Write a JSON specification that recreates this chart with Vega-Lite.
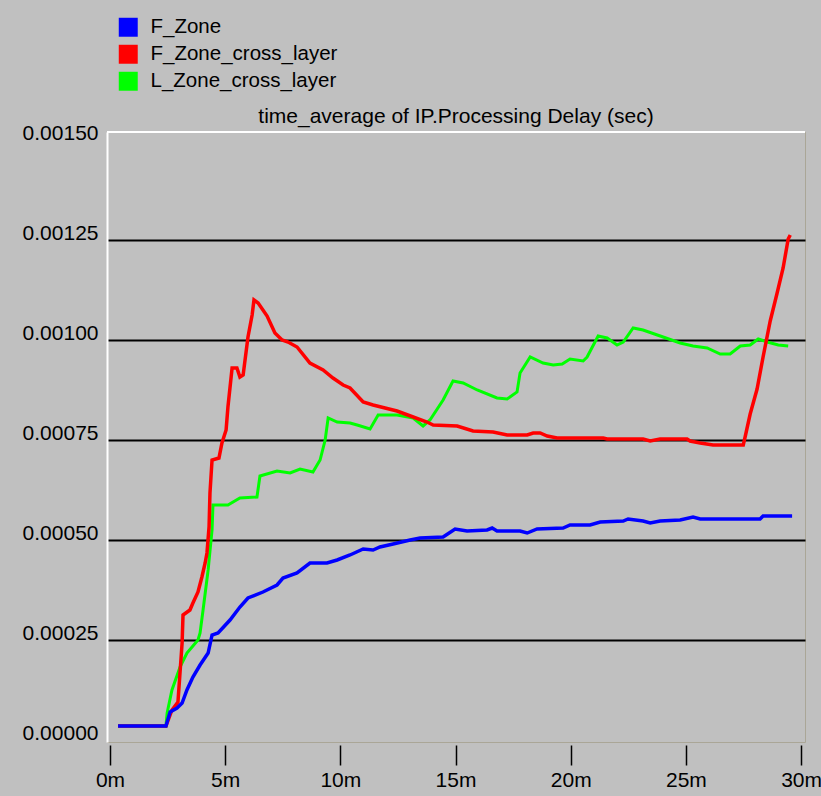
{
  "$schema": "https://vega.github.io/schema/vega-lite/v6.json",
  "autosize": "none",
  "width": 698,
  "height": 610,
  "padding": {"left": 107, "top": 132, "right": 16, "bottom": 54},
  "background": "#c0c0c0",
  "title": {"text": "time_average of IP.Processing Delay (sec)", "font": "Liberation Sans", "fontSize": 21, "fontWeight": "normal", "color": "#000000", "anchor": "middle", "offset": -110},
  "config": {
    "view": {"fill": "#c0c0c0", "stroke": "#aaa697", "strokeWidth": 1},
    "font": "Liberation Sans"
  },
  "datasets": {
    "series": [
      {"s": "F_Zone", "t": 0.35, "v": 0.000035},
      {"s": "F_Zone", "t": 2.43, "v": 0.000035},
      {"s": "F_Zone", "t": 2.61, "v": 0.00007},
      {"s": "F_Zone", "t": 2.91, "v": 0.00008},
      {"s": "F_Zone", "t": 3.13, "v": 0.0000925},
      {"s": "F_Zone", "t": 3.34, "v": 0.000125},
      {"s": "F_Zone", "t": 3.6, "v": 0.0001575},
      {"s": "F_Zone", "t": 3.91, "v": 0.0001875},
      {"s": "F_Zone", "t": 4.26, "v": 0.0002175},
      {"s": "F_Zone", "t": 4.43, "v": 0.0002625},
      {"s": "F_Zone", "t": 4.69, "v": 0.0002675},
      {"s": "F_Zone", "t": 5.21, "v": 0.0003},
      {"s": "F_Zone", "t": 5.64, "v": 0.0003325},
      {"s": "F_Zone", "t": 5.99, "v": 0.000355},
      {"s": "F_Zone", "t": 6.64, "v": 0.00037},
      {"s": "F_Zone", "t": 7.25, "v": 0.0003875},
      {"s": "F_Zone", "t": 7.51, "v": 0.000405},
      {"s": "F_Zone", "t": 8.12, "v": 0.0004175},
      {"s": "F_Zone", "t": 8.68, "v": 0.0004425},
      {"s": "F_Zone", "t": 9.42, "v": 0.0004425},
      {"s": "F_Zone", "t": 9.86, "v": 0.00045},
      {"s": "F_Zone", "t": 10.42, "v": 0.0004625},
      {"s": "F_Zone", "t": 10.99, "v": 0.0004775},
      {"s": "F_Zone", "t": 11.42, "v": 0.000475},
      {"s": "F_Zone", "t": 11.72, "v": 0.0004825},
      {"s": "F_Zone", "t": 12.29, "v": 0.00049},
      {"s": "F_Zone", "t": 13.03, "v": 0.0005},
      {"s": "F_Zone", "t": 13.46, "v": 0.000505},
      {"s": "F_Zone", "t": 14.46, "v": 0.0005075},
      {"s": "F_Zone", "t": 14.98, "v": 0.0005275},
      {"s": "F_Zone", "t": 15.5, "v": 0.0005225},
      {"s": "F_Zone", "t": 16.37, "v": 0.000525},
      {"s": "F_Zone", "t": 16.59, "v": 0.00053},
      {"s": "F_Zone", "t": 16.8, "v": 0.0005225},
      {"s": "F_Zone", "t": 17.8, "v": 0.0005225},
      {"s": "F_Zone", "t": 18.11, "v": 0.0005175},
      {"s": "F_Zone", "t": 18.54, "v": 0.0005275},
      {"s": "F_Zone", "t": 19.67, "v": 0.00053},
      {"s": "F_Zone", "t": 19.97, "v": 0.0005375},
      {"s": "F_Zone", "t": 20.84, "v": 0.0005375},
      {"s": "F_Zone", "t": 21.28, "v": 0.000545},
      {"s": "F_Zone", "t": 22.28, "v": 0.0005475},
      {"s": "F_Zone", "t": 22.49, "v": 0.0005525},
      {"s": "F_Zone", "t": 23.14, "v": 0.0005475},
      {"s": "F_Zone", "t": 23.45, "v": 0.0005425},
      {"s": "F_Zone", "t": 23.88, "v": 0.0005475},
      {"s": "F_Zone", "t": 24.75, "v": 0.00055},
      {"s": "F_Zone", "t": 25.31, "v": 0.0005575},
      {"s": "F_Zone", "t": 25.62, "v": 0.0005525},
      {"s": "F_Zone", "t": 28.22, "v": 0.0005525},
      {"s": "F_Zone", "t": 28.35, "v": 0.00056},
      {"s": "F_Zone", "t": 29.61, "v": 0.00056},

      {"s": "F_Zone_cross_layer", "t": 0.35, "v": 0.000035},
      {"s": "F_Zone_cross_layer", "t": 2.43, "v": 0.000035},
      {"s": "F_Zone_cross_layer", "t": 2.69, "v": 0.000075},
      {"s": "F_Zone_cross_layer", "t": 2.95, "v": 0.000095},
      {"s": "F_Zone_cross_layer", "t": 3.13, "v": 0.0002425},
      {"s": "F_Zone_cross_layer", "t": 3.17, "v": 0.0003125},
      {"s": "F_Zone_cross_layer", "t": 3.47, "v": 0.000325},
      {"s": "F_Zone_cross_layer", "t": 3.6, "v": 0.0003425},
      {"s": "F_Zone_cross_layer", "t": 3.82, "v": 0.00037},
      {"s": "F_Zone_cross_layer", "t": 3.99, "v": 0.0004075},
      {"s": "F_Zone_cross_layer", "t": 4.13, "v": 0.0004425},
      {"s": "F_Zone_cross_layer", "t": 4.21, "v": 0.0004675},
      {"s": "F_Zone_cross_layer", "t": 4.3, "v": 0.0005325},
      {"s": "F_Zone_cross_layer", "t": 4.34, "v": 0.0006175},
      {"s": "F_Zone_cross_layer", "t": 4.43, "v": 0.0007},
      {"s": "F_Zone_cross_layer", "t": 4.73, "v": 0.000705},
      {"s": "F_Zone_cross_layer", "t": 4.86, "v": 0.0007425},
      {"s": "F_Zone_cross_layer", "t": 5.04, "v": 0.000775},
      {"s": "F_Zone_cross_layer", "t": 5.12, "v": 0.0008325},
      {"s": "F_Zone_cross_layer", "t": 5.3, "v": 0.00093},
      {"s": "F_Zone_cross_layer", "t": 5.51, "v": 0.00093},
      {"s": "F_Zone_cross_layer", "t": 5.64, "v": 0.0009075},
      {"s": "F_Zone_cross_layer", "t": 5.78, "v": 0.0009125},
      {"s": "F_Zone_cross_layer", "t": 5.99, "v": 0.0010075},
      {"s": "F_Zone_cross_layer", "t": 6.17, "v": 0.0010625},
      {"s": "F_Zone_cross_layer", "t": 6.25, "v": 0.0011},
      {"s": "F_Zone_cross_layer", "t": 6.43, "v": 0.0010925},
      {"s": "F_Zone_cross_layer", "t": 6.82, "v": 0.00106},
      {"s": "F_Zone_cross_layer", "t": 7.16, "v": 0.0010175},
      {"s": "F_Zone_cross_layer", "t": 7.47, "v": 0.001},
      {"s": "F_Zone_cross_layer", "t": 7.73, "v": 0.000995},
      {"s": "F_Zone_cross_layer", "t": 8.12, "v": 0.0009825},
      {"s": "F_Zone_cross_layer", "t": 8.68, "v": 0.0009425},
      {"s": "F_Zone_cross_layer", "t": 9.25, "v": 0.000925},
      {"s": "F_Zone_cross_layer", "t": 9.68, "v": 0.000905},
      {"s": "F_Zone_cross_layer", "t": 10.12, "v": 0.0008875},
      {"s": "F_Zone_cross_layer", "t": 10.42, "v": 0.00088},
      {"s": "F_Zone_cross_layer", "t": 10.99, "v": 0.000845},
      {"s": "F_Zone_cross_layer", "t": 11.42, "v": 0.0008375},
      {"s": "F_Zone_cross_layer", "t": 12.46, "v": 0.0008225},
      {"s": "F_Zone_cross_layer", "t": 13.16, "v": 0.0008075},
      {"s": "F_Zone_cross_layer", "t": 13.76, "v": 0.000795},
      {"s": "F_Zone_cross_layer", "t": 14.03, "v": 0.0007875},
      {"s": "F_Zone_cross_layer", "t": 15.07, "v": 0.000785},
      {"s": "F_Zone_cross_layer", "t": 15.76, "v": 0.0007725},
      {"s": "F_Zone_cross_layer", "t": 16.63, "v": 0.00077},
      {"s": "F_Zone_cross_layer", "t": 17.24, "v": 0.0007625},
      {"s": "F_Zone_cross_layer", "t": 18.11, "v": 0.0007625},
      {"s": "F_Zone_cross_layer", "t": 18.37, "v": 0.0007675},
      {"s": "F_Zone_cross_layer", "t": 18.67, "v": 0.0007675},
      {"s": "F_Zone_cross_layer", "t": 18.98, "v": 0.00076},
      {"s": "F_Zone_cross_layer", "t": 19.41, "v": 0.000755},
      {"s": "F_Zone_cross_layer", "t": 21.41, "v": 0.000755},
      {"s": "F_Zone_cross_layer", "t": 21.58, "v": 0.0007525},
      {"s": "F_Zone_cross_layer", "t": 23.14, "v": 0.0007525},
      {"s": "F_Zone_cross_layer", "t": 23.45, "v": 0.0007475},
      {"s": "F_Zone_cross_layer", "t": 23.88, "v": 0.0007525},
      {"s": "F_Zone_cross_layer", "t": 25.05, "v": 0.0007525},
      {"s": "F_Zone_cross_layer", "t": 25.18, "v": 0.0007475},
      {"s": "F_Zone_cross_layer", "t": 25.62, "v": 0.0007425},
      {"s": "F_Zone_cross_layer", "t": 26.18, "v": 0.0007375},
      {"s": "F_Zone_cross_layer", "t": 27.49, "v": 0.0007375},
      {"s": "F_Zone_cross_layer", "t": 27.57, "v": 0.0007575},
      {"s": "F_Zone_cross_layer", "t": 27.79, "v": 0.000815},
      {"s": "F_Zone_cross_layer", "t": 28.09, "v": 0.0008775},
      {"s": "F_Zone_cross_layer", "t": 28.35, "v": 0.0009575},
      {"s": "F_Zone_cross_layer", "t": 28.66, "v": 0.0010475},
      {"s": "F_Zone_cross_layer", "t": 28.96, "v": 0.0011175},
      {"s": "F_Zone_cross_layer", "t": 29.22, "v": 0.00118},
      {"s": "F_Zone_cross_layer", "t": 29.44, "v": 0.0012525},
      {"s": "F_Zone_cross_layer", "t": 29.53, "v": 0.0012625},

      {"s": "L_Zone_cross_layer", "t": 0.35, "v": 0.000035},
      {"s": "L_Zone_cross_layer", "t": 2.43, "v": 0.000035},
      {"s": "L_Zone_cross_layer", "t": 2.48, "v": 0.0000675},
      {"s": "L_Zone_cross_layer", "t": 2.69, "v": 0.000125},
      {"s": "L_Zone_cross_layer", "t": 3.04, "v": 0.0001825},
      {"s": "L_Zone_cross_layer", "t": 3.34, "v": 0.0002175},
      {"s": "L_Zone_cross_layer", "t": 3.82, "v": 0.00025},
      {"s": "L_Zone_cross_layer", "t": 3.91, "v": 0.0002675},
      {"s": "L_Zone_cross_layer", "t": 4.04, "v": 0.000325},
      {"s": "L_Zone_cross_layer", "t": 4.26, "v": 0.000425},
      {"s": "L_Zone_cross_layer", "t": 4.43, "v": 0.000525},
      {"s": "L_Zone_cross_layer", "t": 4.47, "v": 0.0005875},
      {"s": "L_Zone_cross_layer", "t": 5.12, "v": 0.0005875},
      {"s": "L_Zone_cross_layer", "t": 5.64, "v": 0.000605},
      {"s": "L_Zone_cross_layer", "t": 6.38, "v": 0.0006075},
      {"s": "L_Zone_cross_layer", "t": 6.51, "v": 0.00066},
      {"s": "L_Zone_cross_layer", "t": 7.25, "v": 0.0006725},
      {"s": "L_Zone_cross_layer", "t": 7.82, "v": 0.0006675},
      {"s": "L_Zone_cross_layer", "t": 8.25, "v": 0.0006775},
      {"s": "L_Zone_cross_layer", "t": 8.81, "v": 0.00067},
      {"s": "L_Zone_cross_layer", "t": 9.12, "v": 0.0007},
      {"s": "L_Zone_cross_layer", "t": 9.34, "v": 0.00075},
      {"s": "L_Zone_cross_layer", "t": 9.47, "v": 0.000805},
      {"s": "L_Zone_cross_layer", "t": 9.86, "v": 0.000795},
      {"s": "L_Zone_cross_layer", "t": 10.42, "v": 0.0007925},
      {"s": "L_Zone_cross_layer", "t": 10.73, "v": 0.0007875},
      {"s": "L_Zone_cross_layer", "t": 11.29, "v": 0.0007775},
      {"s": "L_Zone_cross_layer", "t": 11.64, "v": 0.0008125},
      {"s": "L_Zone_cross_layer", "t": 12.46, "v": 0.0008125},
      {"s": "L_Zone_cross_layer", "t": 13.16, "v": 0.000805},
      {"s": "L_Zone_cross_layer", "t": 13.59, "v": 0.000785},
      {"s": "L_Zone_cross_layer", "t": 13.89, "v": 0.0008},
      {"s": "L_Zone_cross_layer", "t": 14.46, "v": 0.00085},
      {"s": "L_Zone_cross_layer", "t": 14.89, "v": 0.0008975},
      {"s": "L_Zone_cross_layer", "t": 15.33, "v": 0.0008925},
      {"s": "L_Zone_cross_layer", "t": 15.94, "v": 0.000875},
      {"s": "L_Zone_cross_layer", "t": 16.8, "v": 0.000855},
      {"s": "L_Zone_cross_layer", "t": 17.24, "v": 0.0008525},
      {"s": "L_Zone_cross_layer", "t": 17.67, "v": 0.00087},
      {"s": "L_Zone_cross_layer", "t": 17.8, "v": 0.0009175},
      {"s": "L_Zone_cross_layer", "t": 18.24, "v": 0.0009575},
      {"s": "L_Zone_cross_layer", "t": 18.8, "v": 0.0009425},
      {"s": "L_Zone_cross_layer", "t": 19.24, "v": 0.0009375},
      {"s": "L_Zone_cross_layer", "t": 19.63, "v": 0.00094},
      {"s": "L_Zone_cross_layer", "t": 19.97, "v": 0.0009525},
      {"s": "L_Zone_cross_layer", "t": 20.54, "v": 0.0009475},
      {"s": "L_Zone_cross_layer", "t": 20.71, "v": 0.0009575},
      {"s": "L_Zone_cross_layer", "t": 21.19, "v": 0.00101},
      {"s": "L_Zone_cross_layer", "t": 21.58, "v": 0.001005},
      {"s": "L_Zone_cross_layer", "t": 22.01, "v": 0.0009875},
      {"s": "L_Zone_cross_layer", "t": 22.28, "v": 0.000995},
      {"s": "L_Zone_cross_layer", "t": 22.71, "v": 0.00103},
      {"s": "L_Zone_cross_layer", "t": 23.14, "v": 0.001025},
      {"s": "L_Zone_cross_layer", "t": 24.01, "v": 0.0010075},
      {"s": "L_Zone_cross_layer", "t": 24.75, "v": 0.0009925},
      {"s": "L_Zone_cross_layer", "t": 25.31, "v": 0.000985},
      {"s": "L_Zone_cross_layer", "t": 25.92, "v": 0.00098},
      {"s": "L_Zone_cross_layer", "t": 26.49, "v": 0.000965},
      {"s": "L_Zone_cross_layer", "t": 26.92, "v": 0.000965},
      {"s": "L_Zone_cross_layer", "t": 27.36, "v": 0.000985},
      {"s": "L_Zone_cross_layer", "t": 27.79, "v": 0.0009875},
      {"s": "L_Zone_cross_layer", "t": 28.14, "v": 0.0010025},
      {"s": "L_Zone_cross_layer", "t": 28.53, "v": 0.000995},
      {"s": "L_Zone_cross_layer", "t": 29.01, "v": 0.0009875},
      {"s": "L_Zone_cross_layer", "t": 29.44, "v": 0.000985}
    ]
  },
  "data": {"name": "series"},
  "encoding": {
    "x": {
      "field": "t", "type": "quantitative",
      "scale": {"domain": [-0.13, 30.17], "nice": false, "zero": false},
      "axis": {
        "title": null, "values": [0, 5, 10, 15, 20, 25, 30],
        "labelExpr": "datum.value + 'm'",
        "grid": false, "domain": false, "offset": 3,
        "tickSize": 20, "tickColor": "#000000", "tickWidth": 1.5,
        "labelFont": "Liberation Sans", "labelFontSize": 21, "labelColor": "#000000",
        "labelPadding": 4, "labelFlush": false
      }
    },
    "y": {
      "field": "v", "type": "quantitative",
      "scale": {"domain": [-0.000005, 0.00152], "nice": false, "zero": false},
      "axis": {
        "title": null, "values": [0, 0.00025, 0.0005, 0.00075, 0.001, 0.00125, 0.0015],
        "format": ".5f",
        "grid": true,
        "gridColor": {"condition": {"test": "datum.value <= 0 || datum.value >= 0.0015", "value": "transparent"}, "value": "#000000"},
        "gridWidth": 2, "gridOpacity": 1,
        "domain": true, "domainColor": "#ffffff", "domainWidth": 2,
        "ticks": false, "labelPadding": 9, "labelOffset": -7,
        "labelFont": "Liberation Sans", "labelFontSize": 21, "labelColor": "#000000"
      }
    }
  },
  "layer": [
    {
      "mark": {"type": "rule", "color": "#ffffff", "strokeWidth": 2},
      "encoding": {"y": {"datum": 0.00152}, "x": null}
    },
    {
      "transform": [{"filter": "datum.s === 'L_Zone_cross_layer'"}],
      "mark": {"type": "line", "strokeWidth": 3},
      "encoding": {
        "color": {"field": "s", "type": "nominal", "scale": {"domain": ["F_Zone", "F_Zone_cross_layer", "L_Zone_cross_layer"], "range": ["#0000ff", "#ff0000", "#00ff00"]},
          "legend": {"title": null, "orient": "none", "legendX": 11, "legendY": -115, "symbolType": "square", "symbolSize": 360, "symbolStrokeWidth": 0, "labelFontSize": 20.5, "labelFont": "Liberation Sans", "labelColor": "#000000", "labelLimit": 400, "rowPadding": 6, "labelOffset": 12,
            "encode": {"symbols": {"update": {"fill": {"scale": "color", "field": "value"}, "fillOpacity": {"value": 1}}}}}}
      }
    },
    {
      "transform": [{"filter": "datum.s === 'F_Zone_cross_layer'"}],
      "mark": {"type": "line", "strokeWidth": 3.5},
      "encoding": {"color": {"field": "s", "type": "nominal"}}
    },
    {
      "transform": [{"filter": "datum.s === 'F_Zone'"}],
      "mark": {"type": "line", "strokeWidth": 3.5},
      "encoding": {"color": {"field": "s", "type": "nominal"}}
    }
  ]
}
